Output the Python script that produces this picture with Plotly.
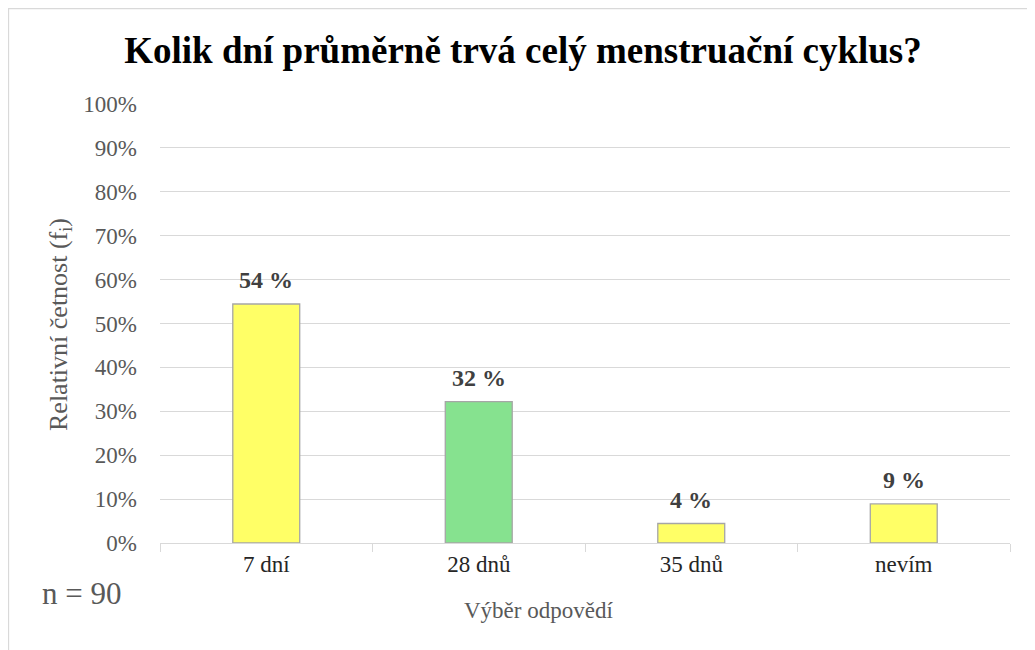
import plotly.graph_objects as go

categories = ["7 dní", "28 dnů", "35 dnů", "nevím"]
values = [54.44, 32.22, 4.44, 8.89]
labels = ["54 %", "32 %", "4 %", "9 %"]
colors = ["#FFFF66", "#86E28F", "#FFFF66", "#FFFF66"]
y_ticks = [0, 10, 20, 30, 40, 50, 60, 70, 80, 90, 100]
y_ticktext = [f"{v}%" for v in y_ticks]

FONT = "'Times New Roman', 'Liberation Serif', 'DejaVu Serif', serif"
OFF = 8  # page body margin
W, H = 1035, 650
L, R, T, B = 160 - OFF, 25 + OFF, 104 - OFF, 107 + OFF
pw, ph = W - L - R, H - T - B

def px(x):
    return (x - OFF - L) / pw

def py(y):
    return (H - B - (y - OFF)) / ph

fig = go.Figure()
fig.add_trace(go.Bar(
    x=categories, y=values,
    marker=dict(color=colors, line=dict(color="#A6A6A6", width=1.3)),
    width=0.315, hoverinfo="x+y",
))

for cat, val, lab in zip(categories, values, labels):
    fig.add_annotation(x=cat, y=val, text=lab, showarrow=False, yanchor="middle",
                       yshift=24,
                       font=dict(family=FONT, size=24, color="#404040", weight="bold"))

fig.update_layout(
    width=W, height=H, margin=dict(l=L, r=R, t=T, b=B),
    paper_bgcolor="white", plot_bgcolor="white", showlegend=False,
    font=dict(family=FONT, color="#595959"),
    title=dict(text="<b>Kolik dní průměrně trvá celý menstruační cyklus?</b>",
               x=(523 - OFF) / W, xanchor="center", y=1 - (50 - OFF) / H, yanchor="middle",
               font=dict(family=FONT, size=37, color="black")),
    xaxis=dict(type="category", showline=True, linecolor="#D9D9D9", linewidth=1.3,
               ticks="outside", tickson="boundaries", ticklen=8, tickcolor="#D9D9D9",
               tickfont=dict(family=FONT, size=23, color="#262626"), showgrid=False),
    yaxis=dict(range=[0, 100], tickvals=y_ticks, ticktext=y_ticktext,
               showgrid=True, gridcolor="#D9D9D9", gridwidth=1.3, zeroline=False,
               tickfont=dict(family=FONT, size=23, color="#595959"), ticklabelstandoff=22,
               showline=False),
    bargap=0.685,
)

fig.add_annotation(text="Relativní četnost (f<sub>i</sub>)", textangle=-90,
                   xref="paper", yref="paper", x=px(42), xanchor="left", y=py(325),
                   showarrow=False, font=dict(family=FONT, size=26, color="#595959"))
fig.add_annotation(text="Výběr odpovědí", xref="paper", yref="paper",
                   x=px(538), y=py(625), showarrow=False,
                   font=dict(family=FONT, size=23, color="#595959"))
fig.add_annotation(text="n = 90", xref="paper", yref="paper",
                   x=px(40), xanchor="left", y=py(613), showarrow=False,
                   font=dict(family=FONT, size=31, color="#595959"))
fig.add_shape(type="rect", xref="paper", yref="paper",
              x0=px(8.5), x1=px(1060), y0=py(8.5), y1=py(680),
              line=dict(color="#D9D9D9", width=1.3), layer="below")

fig.write_html("out.html")
